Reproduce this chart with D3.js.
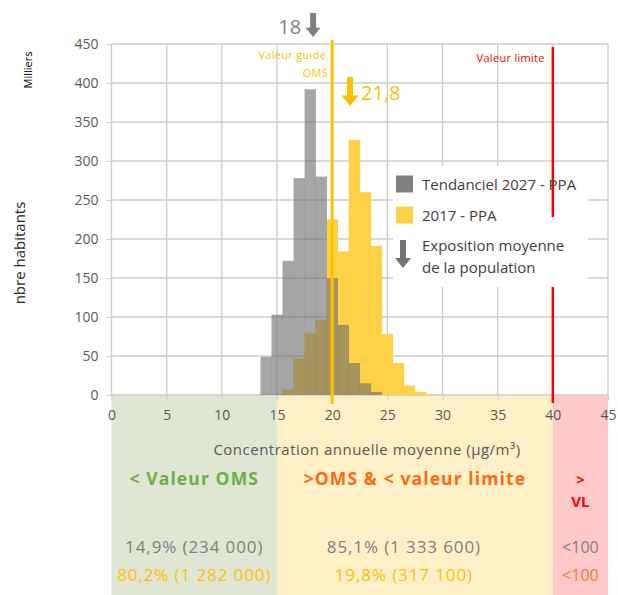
<!DOCTYPE html>
<html>
<head>
<meta charset="utf-8">
<script src="https://cdn.jsdelivr.net/npm/d3@7"></script>
<style>
  html, body { margin: 0; padding: 0; background: #fff; }
  svg { display: block; font-family: "Open Sans", "Noto Sans", sans-serif; }
</style>
</head>
<body>
<svg id="chart" width="618" height="595"></svg>
<script>
// Concentration bins (µg/m³, centred on each integer) and population in thousands
const bins = [14, 15, 16, 17, 18, 19, 20, 21, 22, 23, 24, 25, 26, 27, 28, 29];
const tendanciel2027 = [49, 103, 172, 278, 392, 280, 150, 90, 41, 15, 4, 0, 0, 0, 0, 0];
const ppa2017 = [0, 0, 7, 47, 79, 96, 225, 184, 327, 260, 191, 78, 41, 12, 4, 1];

const yTicks = [0, 50, 100, 150, 200, 250, 300, 350, 400, 450];
const xTicks = [0, 5, 10, 15, 20, 25, 30, 35, 40, 45];

// Mean exposure of the population for each scenario
const meanExposure = { tendanciel2027: 18, ppa2017: 21.8 };
const meanLabels = { tendanciel2027: "18", ppa2017: "21,8" };

// Thresholds
const valeurGuideOMS = 20;
const valeurLimite = 40;

// Exposure classes shown under the axis
const zoneBounds = [[0, 15], [15, 40], [40, 45]];
const zoneLabels = [["< Valeur OMS"], [">OMS & < valeur limite"], [">", "VL"]];
const shares2027 = ["14,9% (234 000)", "85,1% (1 333 600)", "<100"];
const shares2017 = ["80,2% (1 282 000)", "19,8% (317 100)", "<100"];

const legendItems = ["Tendanciel 2027 - PPA", "2017 - PPA"];
const legendArrowText = ["Exposition moyenne", "de la population"];

const svg = d3.select("#chart");
const x = d3.scaleLinear().domain([0, 45]).range([111.5, 608]);
const y = d3.scaleLinear().domain([0, 450]).range([395, 44]);

const C = {
  grid: "#cccccc",
  tick: "#595959",
  gray: "#6b6b6b",
  yellowBar: "#ffd147",
  oms: "#ffc000",
  red: "#ff0000",
  greenBg: "#dfe6d4",
  yellowBg: "#fff0c8",
  pinkBg: "#ffc9c9",
  textGray: "#7f7f7f"
};

// Background bands for the three exposure classes
const bandColors = [C.greenBg, C.yellowBg, C.pinkBg];
svg.append("g").selectAll("rect").data(zoneBounds).join("rect")
  .attr("x", d => x(d[0]))
  .attr("width", d => x(d[1]) - x(d[0]))
  .attr("y", y(0))
  .attr("height", 595 - y(0))
  .attr("fill", (d, i) => bandColors[i]);

// Gridlines
const grid = svg.append("g");
grid.selectAll("line.h").data(yTicks).join("line").attr("class", "h")
  .attr("x1", x(0)).attr("x2", x(45))
  .attr("y1", d => y(d)).attr("y2", d => y(d))
  .attr("stroke", C.grid).attr("stroke-width", 1.3);
grid.selectAll("line.v").data(xTicks).join("line").attr("class", "v")
  .attr("x1", d => x(d)).attr("x2", d => x(d))
  .attr("y1", y(450)).attr("y2", y(0))
  .attr("stroke", C.grid).attr("stroke-width", 1.3);

// Y axis
const yAxis = svg.append("g").attr("transform", `translate(${x(0)},0)`)
  .call(d3.axisLeft(y).tickValues(yTicks).tickSize(5).tickPadding(8));
yAxis.select(".domain").remove();
yAxis.selectAll("line").attr("stroke", C.grid);
yAxis.selectAll("text").attr("fill", C.tick).style("font-size", "14px").style("font-family", "'Open Sans', sans-serif");

// X axis
const xAxis = svg.append("g").attr("transform", `translate(0,${y(0)})`)
  .call(d3.axisBottom(x).tickValues(xTicks).tickSize(5).tickPadding(10));
xAxis.select(".domain").remove();
xAxis.selectAll("line").attr("stroke", C.grid);
xAxis.selectAll("text").attr("fill", C.tick).style("font-size", "14px").style("font-family", "'Open Sans', sans-serif");

// Legend backdrop
svg.append("rect").attr("x", 393).attr("y", 166).attr("width", 195).attr("height", 121).attr("fill", "#fff");

// Histograms
const bw = x(1) - x(0);
svg.append("g").selectAll("rect").data(bins.map((b, i) => [b, ppa2017[i]]).filter(d => d[1] > 0)).join("rect")
  .attr("x", d => x(d[0] - 0.5)).attr("width", bw + 0.3)
  .attr("y", d => y(d[1])).attr("height", d => y(0) - y(d[1]))
  .attr("fill", C.yellowBar);
svg.append("g").selectAll("rect").data(bins.map((b, i) => [b, tendanciel2027[i]]).filter(d => d[1] > 0)).join("rect")
  .attr("x", d => x(d[0] - 0.5)).attr("width", bw + 0.3)
  .attr("y", d => y(d[1])).attr("height", d => y(0) - y(d[1]))
  .attr("fill", C.gray).attr("fill-opacity", 0.6);

// Threshold lines
svg.append("line").attr("x1", x(valeurGuideOMS)).attr("x2", x(valeurGuideOMS))
  .attr("y1", 40).attr("y2", 404).attr("stroke", C.oms).attr("stroke-width", 3);
[[47, 217], [287, 403]].forEach(([a, b]) => {
  svg.append("line").attr("x1", x(valeurLimite)).attr("x2", x(valeurLimite))
    .attr("y1", a).attr("y2", b).attr("stroke", C.red).attr("stroke-width", 2.5);
});

svg.append("text").attr("x", x(valeurGuideOMS) - 6).attr("y", 59)
  .attr("text-anchor", "end").attr("fill", C.oms).style("font-size", "11px").style("letter-spacing", "0.3px").text("Valeur guide");
svg.append("text").attr("x", x(valeurGuideOMS) - 4).attr("y", 77)
  .attr("text-anchor", "end").attr("fill", C.oms).style("font-size", "11px").style("letter-spacing", "0.3px").text("OMS");
svg.append("text").attr("x", x(valeurLimite) - 8).attr("y", 62)
  .attr("text-anchor", "end").attr("fill", C.red).style("font-size", "11px").style("letter-spacing", "0.3px").text("Valeur limite");

// Block arrow pointing down, tip at (cx, tipY)
function arrow(cx, top, tipY, color, headW, shaftW) {
  const headH = headW * 0.62;
  const p = d3.path();
  p.moveTo(cx - shaftW / 2, top);
  p.lineTo(cx + shaftW / 2, top);
  p.lineTo(cx + shaftW / 2, tipY - headH);
  p.lineTo(cx + headW / 2, tipY - headH);
  p.lineTo(cx, tipY);
  p.lineTo(cx - headW / 2, tipY - headH);
  p.lineTo(cx - shaftW / 2, tipY - headH);
  p.closePath();
  svg.append("path").attr("d", p.toString()).attr("fill", color);
}

// Mean exposure markers
arrow(x(meanExposure.tendanciel2027) + 3, 13, 37, C.textGray, 15, 6);
svg.append("text").attr("x", x(meanExposure.tendanciel2027) - 9).attr("y", 34)
  .attr("text-anchor", "end").attr("fill", C.textGray).style("font-size", "20px").text(meanLabels.tendanciel2027);
arrow(x(meanExposure.ppa2017) - 2, 77, 106, C.oms, 17, 6);
svg.append("text").attr("x", x(meanExposure.ppa2017) + 9).attr("y", 100)
  .attr("fill", C.oms).style("font-size", "20px").text(meanLabels.ppa2017);

// Legend
const lg = svg.append("g").attr("transform", "translate(396,0)");
const legendColors = ["#808080", C.yellowBar];
legendItems.forEach((t, i) => {
  const cy = 184 + i * 31;
  lg.append("rect").attr("x", 0).attr("y", cy - 8.5).attr("width", 17).attr("height", 17).attr("fill", legendColors[i]);
  lg.append("text").attr("x", 26).attr("y", cy + 5.5).attr("fill", "#404040").style("font-size", "15px").text(t);
});
arrow(403, 240, 268, "#737373", 16, 6);
legendArrowText.forEach((t, i) => {
  lg.append("text").attr("x", 26).attr("y", 251 + i * 22).attr("fill", "#404040").style("font-size", "15px").text(t);
});

// Axis titles
svg.append("text").attr("transform", "translate(32,70) rotate(-90)")
  .attr("text-anchor", "middle").attr("fill", "#000").style("font-size", "11px").text("Milliers");
svg.append("text").attr("transform", "translate(25,253) rotate(-90)")
  .attr("text-anchor", "middle").attr("fill", "#262626").style("font-size", "15px").text("nbre habitants");
svg.append("text").attr("x", 367).attr("y", 455)
  .attr("text-anchor", "middle").attr("fill", C.tick).style("font-size", "15px").style("letter-spacing", "0.5px")
  .text("Concentration annuelle moyenne (µg/m³)");

// Exposure class labels and shares
const zoneColors = ["#70ad47", "#ff6a10", C.red];
const zoneCx = zoneBounds.map(d => x((d[0] + d[1]) / 2));
zoneLabels.forEach((lines, i) => {
  lines.forEach((t, j) => {
    svg.append("text").attr("x", zoneCx[i]).attr("y", 485 + j * 22)
      .attr("text-anchor", "middle").attr("fill", zoneColors[i])
      .style("font-size", i === 2 ? "15px" : "17.5px").style("font-weight", "bold")
      .style("letter-spacing", i === 2 ? "0px" : "1.1px").text(t);
  });
});
const shareCx = [zoneCx[0], x(26.5), zoneCx[2]];
const small = [false, false, true];
shares2027.forEach((t, i) => {
  svg.append("text").attr("x", shareCx[i]).attr("y", 553).attr("text-anchor", "middle")
    .attr("fill", C.textGray).style("font-size", small[i] ? "16px" : "17px")
    .style("letter-spacing", small[i] ? "0px" : "0.9px").text(t);
});
const share2017Colors = [C.oms, C.oms, "#f07a3c"];
shares2017.forEach((t, i) => {
  svg.append("text").attr("x", shareCx[i]).attr("y", 581).attr("text-anchor", "middle")
    .attr("fill", share2017Colors[i]).style("font-size", small[i] ? "16px" : "17px")
    .style("letter-spacing", small[i] ? "0px" : "0.9px").text(t);
});
</script>
</body>
</html>
